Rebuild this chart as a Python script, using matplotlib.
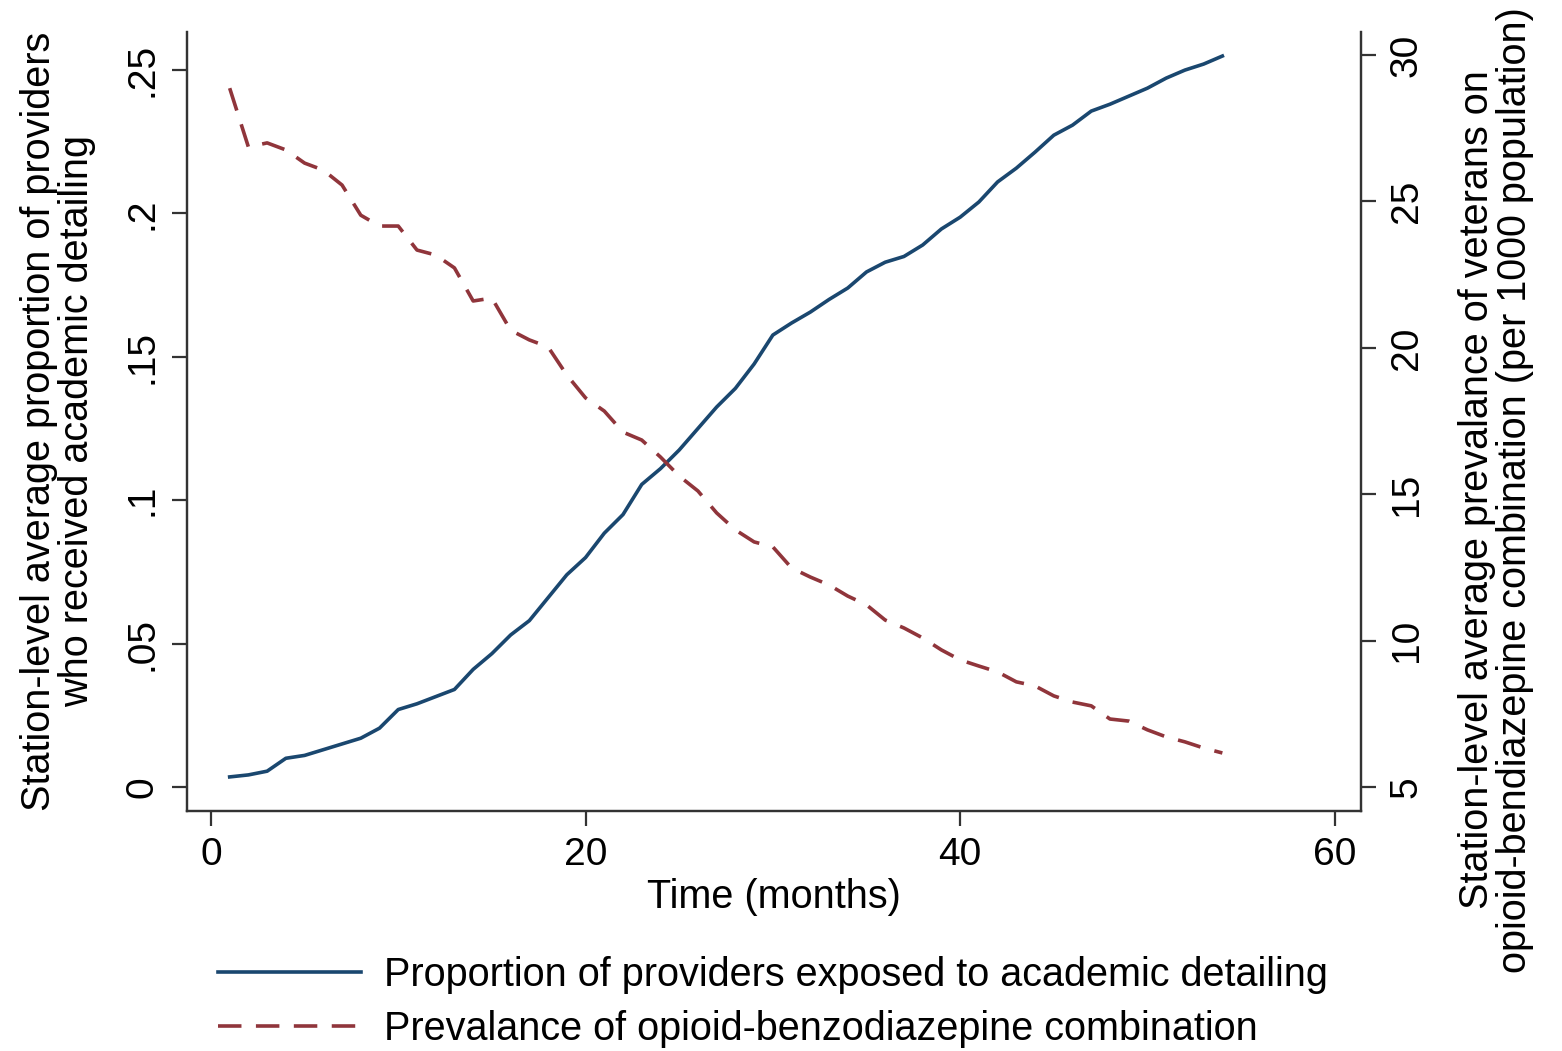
import matplotlib.pyplot as plt
import numpy as np

plt.rcParams['font.family'] = ['Liberation Sans', 'DejaVu Sans']

# months 1..54
months = list(range(1, 55))

# station-level average proportion of providers exposed to academic detailing
proportion = [0.0035, 0.0042, 0.0055, 0.0100, 0.0110, 0.0130, 0.0150, 0.0170, 0.0205, 0.0270,
              0.0290, 0.0315, 0.0340, 0.0410, 0.0465, 0.0530, 0.0580, 0.0660, 0.0740, 0.0800,
              0.0885, 0.0950, 0.1055, 0.1110, 0.1175, 0.1250, 0.1325, 0.1390, 0.1475, 0.1576,
              0.1618, 0.1656, 0.1700, 0.1740, 0.1796, 0.1830, 0.1850, 0.1890, 0.1946, 0.1987,
              0.2040, 0.2110, 0.2158, 0.2214, 0.2273, 0.2308, 0.2357, 0.2381, 0.2409, 0.2437,
              0.2472, 0.2500, 0.2521, 0.2549]

# prevalence of opioid-benzodiazepine combination (per 1000)
prevalence = [28.87, 26.86, 27.00, 26.76, 26.31, 26.07, 25.56, 24.53, 24.16, 24.16,
              23.34, 23.17, 22.73, 21.60, 21.70, 20.60, 20.27, 20.03, 19.07, 18.29,
              17.84, 17.12, 16.85, 16.27, 15.62, 15.11, 14.36, 13.78, 13.37, 13.20,
              12.48, 12.17, 11.90, 11.52, 11.22, 10.70, 10.43, 10.09, 9.68, 9.34,
              9.13, 8.93, 8.59, 8.45, 8.11, 7.90, 7.77, 7.32, 7.25, 6.95,
              6.71, 6.54, 6.33, 6.16]

left_ticks = [0, 0.05, 0.1, 0.15, 0.2, 0.25]
left_ticklabels = ['0', '.05', '.1', '.15', '.2', '.25']
right_ticks = [5, 10, 15, 20, 25, 30]
x_ticks = [0, 20, 40, 60]

navy = '#1a476f'
maroon = '#90353b'
fs = 28.5
tfs = 28

fig = plt.figure(figsize=(15.62, 10.51), dpi=100)
ax = fig.add_axes([0.1197, 0.2284, 0.7516, 0.7412])
ax2 = ax.twinx()

l1, = ax.plot(months, proportion, color=navy, lw=2.6)
l2, = ax2.plot(months, prevalence, color=maroon, lw=2.6, dashes=(6.5, 4))

ax.set_xlim(-1.28, 61.4)
ax.set_ylim(-0.00837, 0.2633)
ax2.set_ylim(4.18, 30.79)

ax.set_xticks(x_ticks)
ax.set_yticks(left_ticks)
ax.set_yticklabels(left_ticklabels, rotation=90, va='center')
ax2.set_yticks(right_ticks)
ax2.set_yticklabels([str(t) for t in right_ticks], rotation=90, va='center')

for a in (ax, ax2):
    a.spines['top'].set_visible(False)
    for s in a.spines.values():
        s.set_linewidth(1.6)
        s.set_color('#333333')
    a.tick_params(direction='out', length=11, width=1.6, colors='#333333',
                  labelcolor='black', labelsize=tfs)
ax.tick_params(axis='y', pad=8)
ax.tick_params(axis='x', pad=8)
ax2.tick_params(axis='y', pad=9)

ax.set_xlabel('Time (months)', fontsize=fs, labelpad=3)
ax.set_ylabel('Station-level average proportion of providers\nwho received academic detailing',
              fontsize=fs, va='center', ha='center', linespacing=1.02)
ax.yaxis.set_label_coords(-0.110, 0.5)
ax2.set_ylabel('Station-level average prevalance of veterans on\n'
               'opioid-bendiazepine combination (per 1000 population)',
               fontsize=fs, va='center', ha='center', linespacing=1.02)
ax2.yaxis.set_label_coords(1.115, 0.412)

fig.legend([l1, l2],
           ['Proportion of providers exposed to academic detailing',
            'Prevalance of opioid-benzodiazepine combination'],
           loc='center left', bbox_to_anchor=(0.1396, 0.0466), frameon=False,
           fontsize=fs, handlelength=3.6, handletextpad=0.6, labelspacing=0.4,
           borderpad=0, borderaxespad=0)

plt.savefig('out.png', dpi=100)
